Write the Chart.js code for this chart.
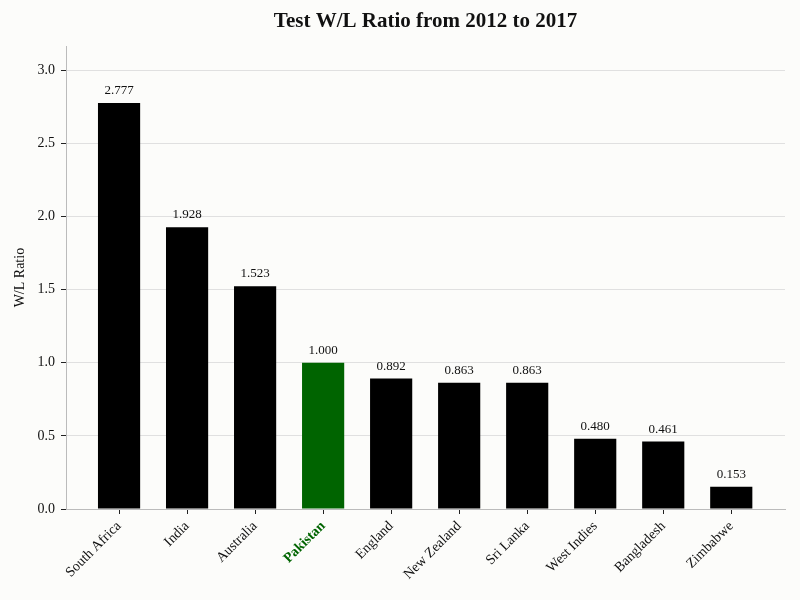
<!DOCTYPE html>
<html><head><meta charset="utf-8">
<script src="https://cdn.jsdelivr.net/npm/chart.js@4.4.0/dist/chart.umd.min.js"></script>
<style>html,body{margin:0;padding:0;background:#fcfcfa;}#c{display:block;}</style>
</head><body>
<canvas id="c" width="800" height="600"></canvas>
<script>
const categories = ["South Africa","India","Australia","Pakistan","England","New Zealand","Sri Lanka","West Indies","Bangladesh","Zimbabwe"];
const ratios = [2.777,1.928,1.523,1.000,0.892,0.863,0.863,0.480,0.461,0.153];
const yTicks = [0,0.5,1,1.5,2,2.5,3];
const highlight = "Pakistan";
const titleText = "Test W/L Ratio from 2012 to 2017";
const FONT = "'Liberation Serif', 'DejaVu Serif', serif";

const labelPlugin = {
  id: 'barLabels',
  afterDatasetsDraw(chart) {
    const ctx = chart.ctx;
    const meta = chart.getDatasetMeta(0);
    ctx.save();
    ctx.font = "13px " + FONT;
    ctx.fillStyle = "#111";
    ctx.textAlign = "center";
    ctx.textBaseline = "bottom";
    meta.data.forEach((bar, i) => {
      ctx.fillText(ratios[i].toFixed(3), bar.x, bar.y - 6);
    });
    // title centred over the plot area
    const ca = chart.chartArea;
    ctx.font = "bold 21px " + FONT;
    ctx.textBaseline = "middle";
    ctx.fillText(titleText, (ca.left + ca.right) / 2, 22);
    ctx.restore();
  }
};
const bgPlugin = {
  id: 'bg',
  beforeDraw(chart) {
    const ctx = chart.ctx;
    ctx.save(); ctx.fillStyle = "#fcfcfa"; ctx.fillRect(0,0,chart.width,chart.height); ctx.restore();
  }
};

new Chart(document.getElementById('c'), {
  type: 'bar',
  data: {
    datasets: [{
      data: ratios.map((v, i) => ({ x: i, y: v })),
      backgroundColor: categories.map(c => c === highlight ? "#006400" : "#000000"),
      barPercentage: 0.62,
      categoryPercentage: 1.0
    }]
  },
  options: {
    responsive: false,
    animation: false,
    layout: { padding: { left: 0, right: 15, top: 0, bottom: 0 } },
    plugins: {
      legend: { display: false },
      tooltip: { enabled: false },
      title: {
        display: true,
        text: titleText,
        color: "rgba(0,0,0,0)",
        font: { family: FONT, size: 21, weight: 'bold' },
        padding: { top: 10, bottom: 11 }
      }
    },
    scales: {
      x: {
        type: 'linear',
        min: -0.78, max: 9.79,
        offset: false,
        afterFit(s) { s.height = 91; },
        afterBuildTicks(s) { s.ticks = categories.map((c, i) => ({ value: i })); },
        grid: { offset: false, drawOnChartArea: false, tickColor: "#222", tickLength: 5 },
        border: { color: "#bbbbbb" },
        ticks: {
          maxRotation: 45, minRotation: 45,
          padding: 4,
          autoSkip: false,
          callback: (v) => categories[Math.round(v)] || '',
          color: (c) => categories[c.index] === highlight ? "#006400" : "#111",
          font: (c) => ({ family: FONT, size: 14, weight: categories[c.index] === highlight ? 'bold' : 'normal' })
        }
      },
      y: {
        min: 0, max: 3.166,
        afterFit(s) { s.width = 66; },
        afterBuildTicks(s) { s.ticks = yTicks.map(v => ({ value: v })); },
        grid: { color: "#e0e0e0", tickColor: "#222", tickLength: 5 },
        border: { color: "#bbbbbb" },
        title: { display: true, text: "W/L Ratio", color: "#111", font: { family: FONT, size: 14 }, padding: { top: 12, bottom: 0 } },
        ticks: {
          color: "#111",
          padding: 6,
          font: { family: FONT, size: 14 },
          callback: (v) => Number(v).toFixed(1)
        }
      }
    }
  },
  plugins: [bgPlugin, labelPlugin]
});
</script>
</body></html>
